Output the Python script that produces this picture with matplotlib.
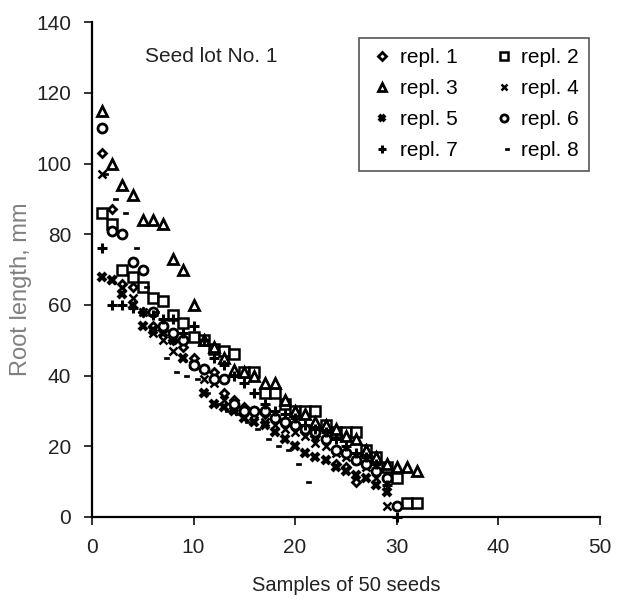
import matplotlib
matplotlib.use("Agg")
import matplotlib.pyplot as plt
from matplotlib.path import Path

plt.rcParams['font.family'] = ['Liberation Sans', 'DejaVu Sans']

# root length (mm) per sample, one list per replicate
repl1 = [103, 87, 66, 65, 58, 54, 53, 50, 48, 45, 42, 41, 35, 33, 31, 30, 29, 28, 27, 26, 24, 23, 22, 15, 14, 10]
repl2 = [86, 83, 70, 68, 65, 62, 61, 57, 55, 51, 50, 47.5, 47, 46, 41, 41, 35, 35, 32, 30, 30, 30, 26, 24, 24, 24,
         19, 17, 14, 11, 4, 4]
repl3 = [115, 100, 94, 91, 84, 84, 83, 73, 70, 60, 50, 48, 45, 41.5, 41, 40, 38, 38, 33, 30, 29, 27, 26, 25, 23, 22,
         19, 17, 15, 14, 14, 13]
repl4 = [97, 67, 65, 62, 58, 52, 50, 47, 45, 43, 39, 38, 33, 31, 30, 29, 27, 26, 25, 24, 23, 21, 20, 18, 17, 16,
         14, 11, 3]
repl5 = [68, 67, 63, 60, 54, 53, 52, 50, 45, 43, 35, 32, 31, 30, 28, 27, 26, 24, 22, 20, 18, 17, 16, 14, 13, 12,
         11, 9, 7]
repl6 = [110, 81, 80, 72, 70, 58, 54, 52, 50, 43, 42, 39, 39, 32, 30, 30, 30, 28, 27, 26, 25, 24, 22, 19, 18, 16,
         15, 13, 11, 3]
repl7 = [76, 60, 60, 59, 58, 57, 56, 56, 52, 54, 50, 45, 43, 40, 38, 35, 32, 30, 29, 28, 26, 25, 24, 22, 20, 18,
         17, 15, 9, 0]
repl8 = [97, 90, 86, 76, 65, 58, 45, 41, 40, 39, 35, 32, 30, 29, 27, 25, 22, 20, 19, 15, 10]

labels = ["repl. %d" % i for i in range(1, 9)]
series = [repl1, repl2, repl3, repl4, repl5, repl6, repl7, repl8]

# dash marker sits a bit right of the point, like the excel original
dash = Path([(0.15, -0.22), (1.0, -0.22), (1.0, 0.22), (0.15, 0.22), (0.15, -0.22)],
            [Path.MOVETO, Path.LINETO, Path.LINETO, Path.LINETO, Path.CLOSEPOLY])

styles = [
    dict(marker='D', ms=4.5, mfc='white', mec='black', mew=2.0),
    dict(marker='s', ms=7, mfc='white', mec='black', mew=1.8),
    dict(marker='^', ms=7.5, mfc='white', mec='black', mew=2.0),
    dict(marker='x', ms=5.5, mec='black', mew=1.8),
    dict(marker='x', ms=5.5, mec='black', mew=3.0),
    dict(marker='o', ms=6.5, mfc='white', mec='black', mew=2.0),
    dict(marker='+', ms=7, mec='black', mew=2.2),
    dict(marker=dash, ms=9, mfc='black', mec='black', mew=0.5),
]

fig = plt.figure(figsize=(6.21, 5.99), dpi=100)
ax = fig.add_axes([0.148, 0.137, 0.818, 0.826])

handles = []
for vals, lab, st in zip(series, labels, styles):
    xs = list(range(1, len(vals) + 1))
    h, = ax.plot(xs, vals, linestyle='none', label=lab, clip_on=False, **st)
    handles.append(h)

ax.set_xlim(0, 50)
ax.set_ylim(0, 140)
ax.set_xticks([0, 10, 20, 30, 40, 50])
ax.set_yticks(range(0, 141, 20))
for s in ['top', 'right']:
    ax.spines[s].set_visible(False)
for s in ['left', 'bottom']:
    ax.spines[s].set_linewidth(1.6)
ax.tick_params(direction='out', length=6, width=1.3, labelsize=15, colors='#222222', pad=9)

ax.set_xlabel("Samples of 50 seeds", fontsize=14.5, color='#222222', labelpad=14)
ax.set_ylabel("Root length, mm", fontsize=17, color='#808080')
ax.yaxis.set_label_coords(-0.118, 0.46)

ax.text(0.104, 0.92, "Seed lot No. 1", transform=ax.transAxes, fontsize=15, color='#222222')

order = [0, 2, 4, 6, 1, 3, 5, 7]
leg = ax.legend([handles[i] for i in order], [labels[i] for i in order], ncol=2,
                loc='upper right', bbox_to_anchor=(1.0, 0.99), fontsize=15,
                frameon=True, fancybox=False, edgecolor='#555555', framealpha=1,
                handlelength=1.2, handletextpad=0.25, columnspacing=1.6,
                labelspacing=0.58, borderpad=0.5, borderaxespad=0.5, markerscale=0.8)
leg.get_frame().set_linewidth(1.2)

fig.savefig("out.png", dpi=100)
